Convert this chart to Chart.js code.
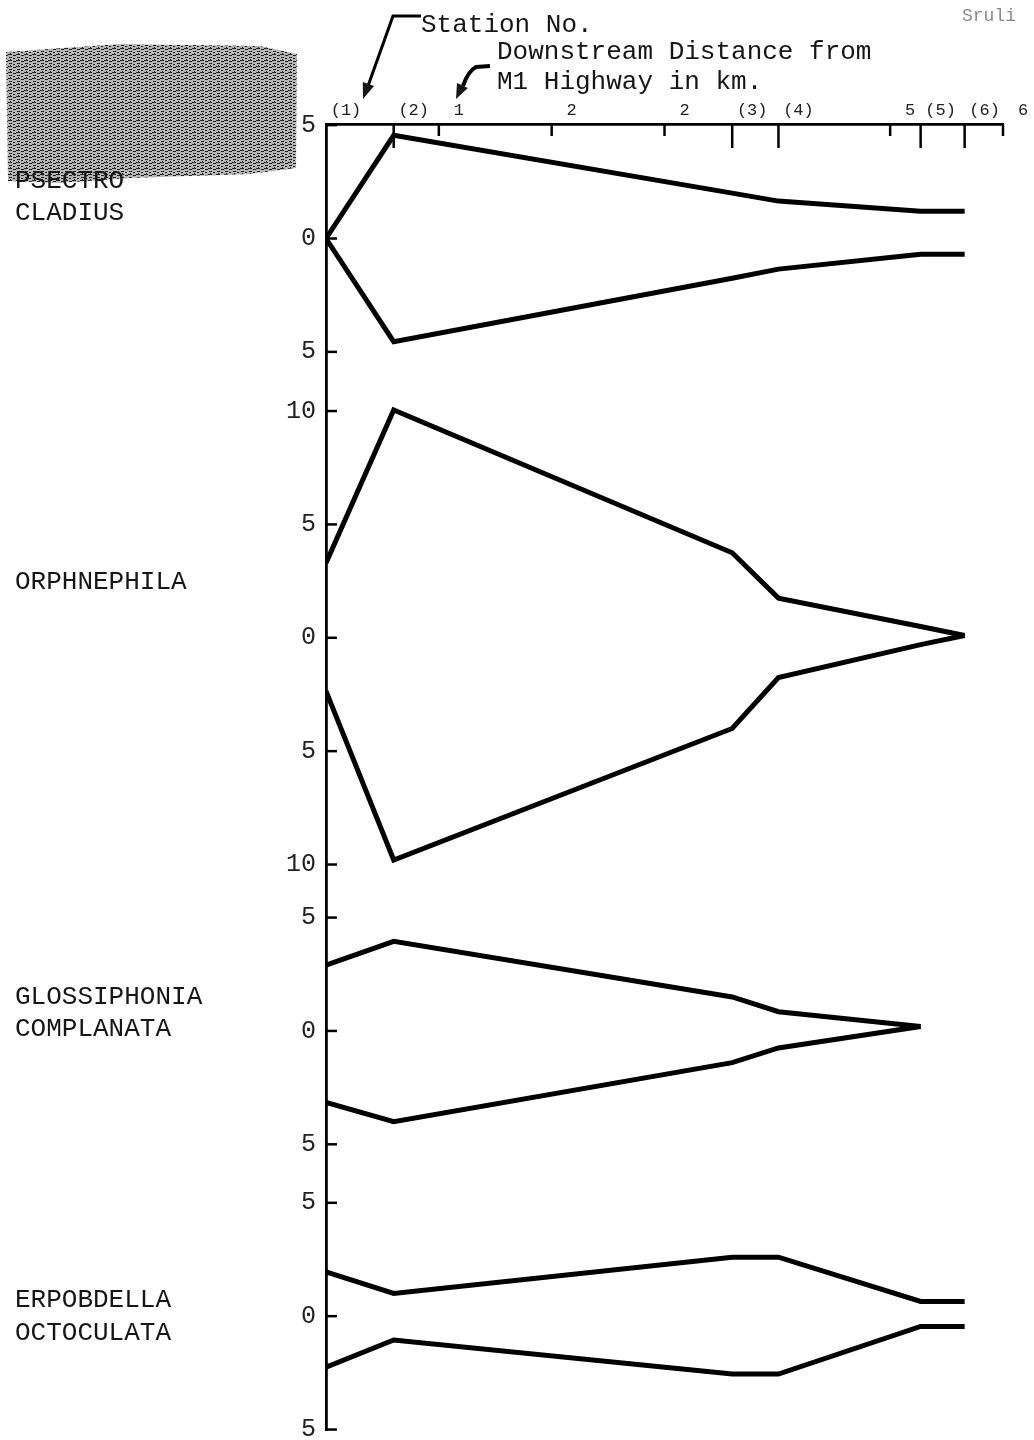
<!DOCTYPE html>
<html>
<head>
<meta charset="utf-8">
<script src="https://cdn.jsdelivr.net/npm/chart.js@4.4.0/dist/chart.umd.min.js"></script>
<style>
  html, body { margin: 0; padding: 0; background: #fff; }
</style>
</head>
<body>
<canvas id="chart" width="1034" height="1440"></canvas>
<script>
// stations along the stream, km downstream of the M1 Highway
const stationLabels = ["(1)", "(2)", "(3)", "(4)", "(5)", "(6)"];
const stationKm = [0, 0.6, 3.6, 4.01, 5.27, 5.66];
const kmTicks = [1, 2, 3, 5, 6];
const kmTickLabels = ["1", "2", "2", "5", "6"];

const speciesNames = [
  ["PSECTRO", "CLADIUS"],
  ["ORPHNEPHILA"],
  ["GLOSSIPHONIA", "COMPLANATA"],
  ["ERPOBDELLA", "OCTOCULATA"]
];

// upper / lower edge of each kite, one value per station
const psectroUpper = [0, 4.55, 2.0, 1.65, 1.2, 1.2];
const psectroLower = [0, -4.55, -1.75, -1.35, -0.7, -0.7];
const orphUpper = [3.3, 10.05, 3.75, 1.75, 0.5, 0.1];
const orphLower = [-2.35, -9.8, -4.0, -1.75, -0.3, 0.1];
const glossUpper = [2.9, 3.95, 1.5, 0.85, 0.2, null];
const glossLower = [-3.15, -4.0, -1.4, -0.75, 0.2, null];
const erpoUpper = [1.95, 1.0, 2.6, 2.6, 0.65, 0.65];
const erpoLower = [-2.25, -1.05, -2.55, -2.55, -0.45, -0.45];

// tick values on the left axis for each panel
const psectroTicks = [5, 0, -5];
const orphTicks = [10, 5, 0, -5, -10];
const glossTicks = [5, 0, -5];
const erpoTicks = [5, 0, -5];

// layout: where each panel's zero sits, counted in units down from the top axis
const panelZero = [5.05, 22.66, 40.0, 52.58];
const yBottom = 57.6;

const panels = [
  { upper: psectroUpper, lower: psectroLower, ticks: psectroTicks },
  { upper: orphUpper, lower: orphLower, ticks: orphTicks },
  { upper: glossUpper, lower: glossLower, ticks: glossTicks },
  { upper: erpoUpper, lower: erpoLower, ticks: erpoTicks }
];

const toPoints = (vals, zero) =>
  stationKm.map((x, i) => ({ x: x, y: vals[i] == null ? null : vals[i] - zero }));

let datasets = [];
panels.forEach((p, k) => {
  [p.upper, p.lower].forEach((vals) => {
    datasets.push({
      data: toPoints(vals, panelZero[k]),
      borderColor: "#000",
      borderWidth: 5,
      pointRadius: 0,
      tension: 0,
      fill: false,
      spanGaps: false,
      borderJoinStyle: "miter"
    });
  });
});

let yTickItems = [];
panels.forEach((p, k) => {
  p.ticks.forEach((v) => {
    yTickItems.push({ value: v - panelZero[k], label: String(Math.abs(v)) });
  });
});

let xTickItems = stationKm.map((v, i) => ({ value: v, label: stationLabels[i], station: true }))
  .concat(kmTicks.map((v, i) => ({ value: v, label: kmTickLabels[i], station: false })));
xTickItems.sort((a, b) => a.value - b.value);

const ink = "#161616";
const mono = '"Liberation Mono", "DejaVu Sans Mono", monospace';

function arrowHead(ctx, fx, fy, tx, ty, len, half) {
  const a = Math.atan2(ty - fy, tx - fx);
  ctx.beginPath();
  ctx.moveTo(tx, ty);
  ctx.lineTo(tx - len * Math.cos(a) + half * Math.sin(a), ty - len * Math.sin(a) - half * Math.cos(a));
  ctx.lineTo(tx - len * Math.cos(a) - half * Math.sin(a), ty - len * Math.sin(a) + half * Math.cos(a));
  ctx.closePath();
  ctx.fill();
}

const paperMarks = {
  id: "paperMarks",
  beforeDraw(chart) {
    // grey smudge from the scan, top left
    const ctx = chart.ctx;
    const tile = document.createElement("canvas");
    tile.width = 8; tile.height = 6;
    const t = tile.getContext("2d");
    t.fillStyle = "#b4b4b4";
    t.fillRect(0, 0, 8, 6);
    t.fillStyle = "#222";
    t.fillRect(0, 0, 4, 1);
    t.fillRect(5, 1, 3, 1);
    t.fillRect(1, 3, 3, 1);
    t.fillRect(5, 4, 2, 1);
    t.fillRect(2, 5, 1, 1);
    ctx.save();
    ctx.fillStyle = ctx.createPattern(tile, "repeat");
    ctx.beginPath();
    ctx.moveTo(6, 52); ctx.lineTo(120, 44); ctx.lineTo(260, 46); ctx.lineTo(297, 54);
    ctx.lineTo(296, 168); ctx.lineTo(250, 174); ctx.lineTo(130, 178); ctx.lineTo(60, 183);
    ctx.lineTo(8, 181);
    ctx.closePath();
    ctx.fill();
    ctx.restore();
  },
  afterDraw(chart) {
    const ctx = chart.ctx;
    const xs = chart.scales.x;
    const ys = chart.scales.y;
    const area = chart.chartArea;
    ctx.save();
    ctx.strokeStyle = "#000";
    ctx.lineWidth = 2.5;
    // inward tick marks on the top axis
    xs.ticks.forEach((t, i) => {
      if (t.value === 0) return;
      const px = xs.getPixelForValue(t.value);
      const len = xTickItems[i].station ? 24 : 12;
      ctx.beginPath();
      ctx.moveTo(px, area.top);
      ctx.lineTo(px, area.top + len);
      ctx.stroke();
    });
    // inward tick marks on the left axis
    ys.ticks.forEach((t) => {
      const py = ys.getPixelForValue(t.value);
      ctx.beginPath();
      ctx.moveTo(area.left, py);
      ctx.lineTo(area.left + 11, py);
      ctx.stroke();
    });

    // species names beside each panel
    const lineOffsets = [[-57, -25], [-56], [-34, -2], [-16, 17]];
    ctx.fillStyle = ink;
    ctx.font = "26px " + mono;
    ctx.textBaseline = "middle";
    ctx.textAlign = "left";
    speciesNames.forEach((lines, k) => {
      const zy = ys.getPixelForValue(-panelZero[k]);
      lines.forEach((s, j) => ctx.fillText(s, 15, zy + lineOffsets[k][j]));
    });

    // header notes with arrows
    ctx.fillText("Station No.", 421, 25);
    ctx.fillText("Downstream Distance from", 497, 52);
    ctx.fillText("M1 Highway in km.", 497, 82);

    ctx.lineWidth = 3;
    ctx.beginPath();
    ctx.moveTo(421, 16);
    ctx.lineTo(393, 16);
    ctx.lineTo(368, 86);
    ctx.stroke();
    arrowHead(ctx, 393, 16, 363, 99, 16, 6);

    ctx.lineWidth = 4;
    ctx.beginPath();
    ctx.moveTo(490, 66);
    ctx.lineTo(476, 67);
    ctx.quadraticCurveTo(468, 71, 463, 86);
    ctx.stroke();
    arrowHead(ctx, 466, 78, 456, 99, 15, 6);

    ctx.fillStyle = "#8a8a8a";
    ctx.font = "18px " + mono;
    ctx.fillText("Sruli", 962, 16);
    ctx.restore();
  }
};

new Chart(document.getElementById("chart"), {
  type: "line",
  data: { datasets: datasets },
  options: {
    responsive: false,
    animation: false,
    layout: { padding: { top: 0, left: 0, right: 31, bottom: 10 } },
    plugins: { legend: { display: false }, tooltip: { enabled: false } },
    scales: {
      x: {
        type: "linear",
        position: "top",
        min: 0,
        max: 6,
        afterBuildTicks: (scale) => {
          scale.ticks = xTickItems.map((t) => ({ value: t.value }));
        },
        afterFit: (scale) => {
          scale.height = 124;
          scale.paddingLeft = 0;
          scale.paddingRight = 0;
        },
        grid: { display: false, drawTicks: false },
        border: { display: true, color: "#000", width: 2.8 },
        ticks: {
          autoSkip: false,
          maxRotation: 0,
          padding: 3,
          labelOffset: 20,
          color: "#222",
          font: { family: mono, size: 17 },
          callback: (v, i) => xTickItems[i].label
        }
      },
      y: {
        type: "linear",
        min: -yBottom,
        max: 0,
        afterBuildTicks: (scale) => {
          scale.ticks = yTickItems.map((t) => ({ value: t.value }));
        },
        afterFit: (scale) => {
          scale.width = 326;
          scale.paddingTop = 0;
          scale.paddingBottom = 0;
        },
        grid: { display: false, drawTicks: false },
        border: { display: true, color: "#000", width: 2.8 },
        ticks: {
          autoSkip: false,
          padding: 10,
          color: "#222",
          font: { family: mono, size: 25 },
          callback: (v, i) => yTickItems[i].label
        }
      }
    }
  },
  plugins: [paperMarks]
});
</script>
</body>
</html>
